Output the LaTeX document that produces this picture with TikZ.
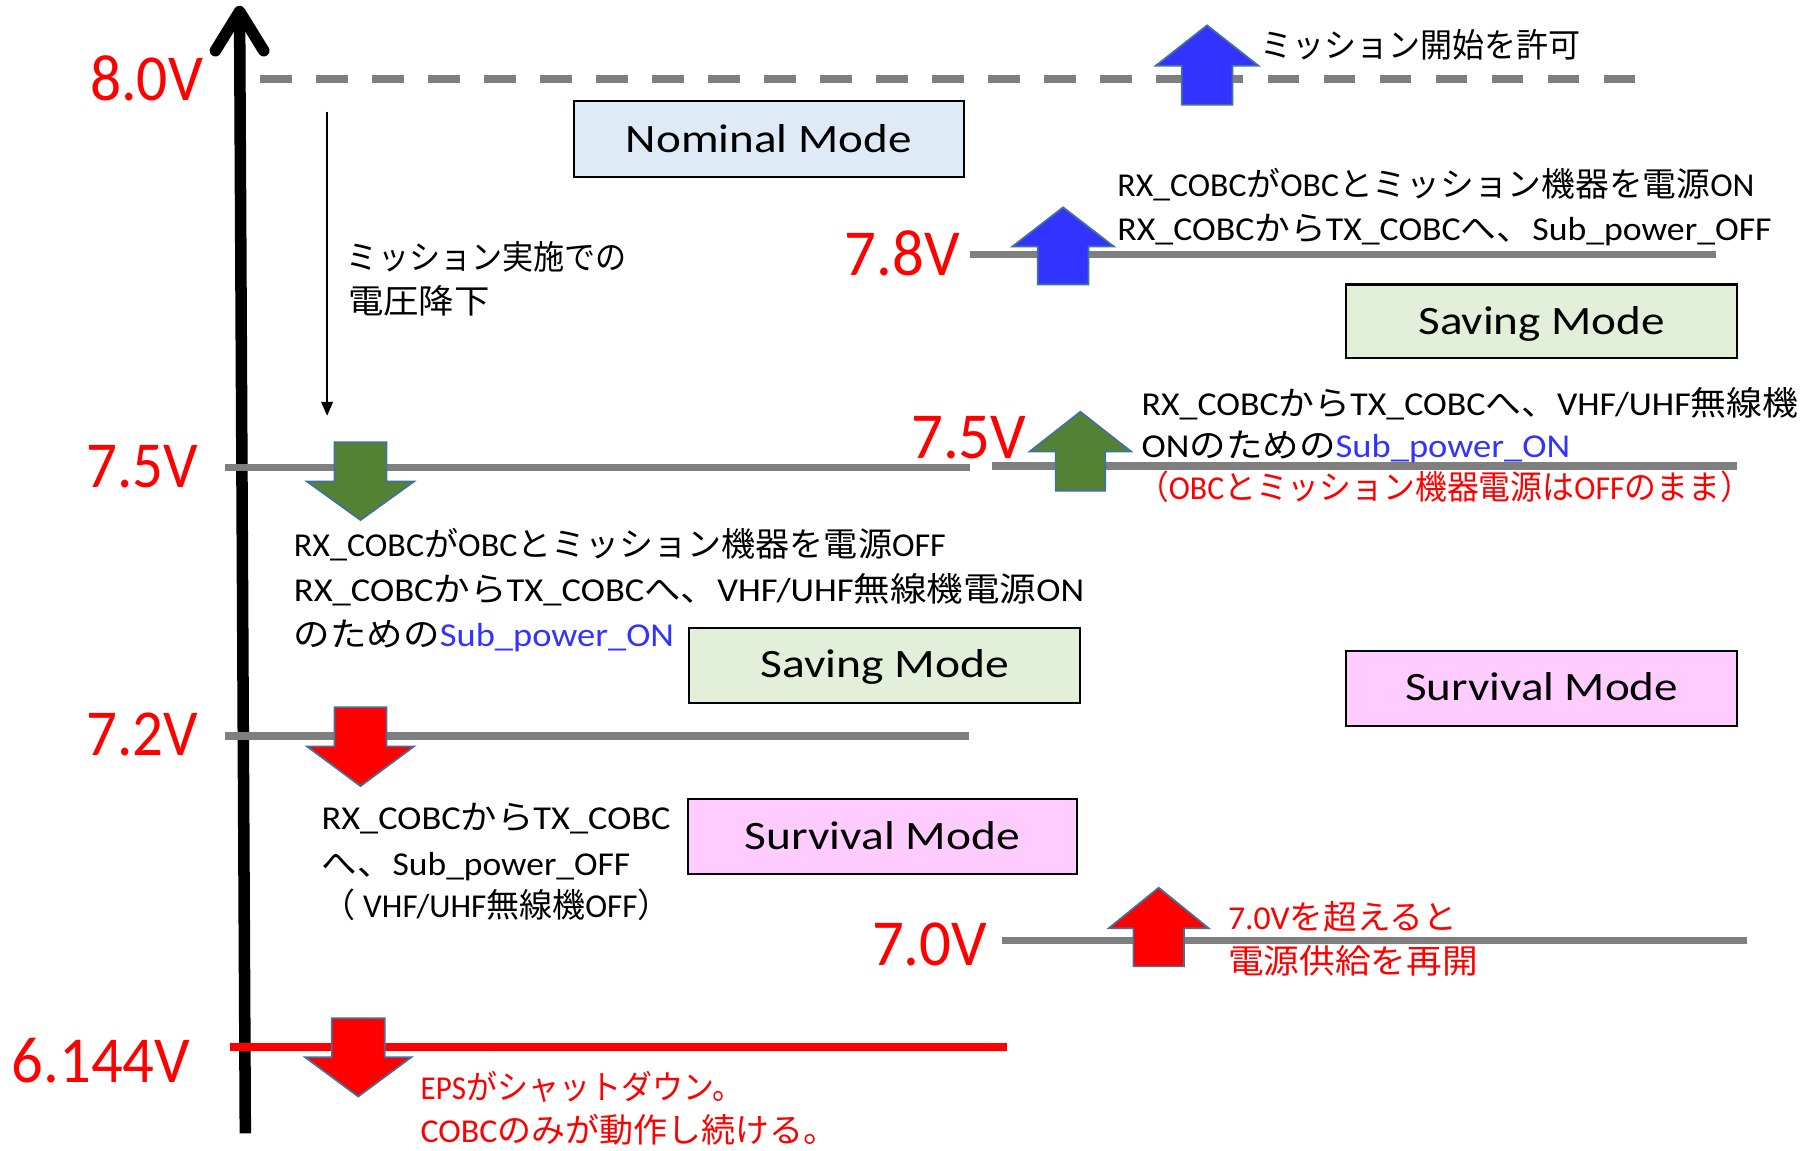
\documentclass[tikz,border=0pt]{standalone}
\usepackage{fontspec}
\setmainfont{Carlito}
\newfontfamily\jpf{Noto Sans CJK JP}
\usepackage{graphicx}
\usetikzlibrary{arrows.meta}
\definecolor{lvgray}{HTML}{7F7F7F}
\definecolor{edgeblue}{HTML}{41719C}
\definecolor{arrblue}{HTML}{3333FF}
\definecolor{arrgreen}{HTML}{548235}
\definecolor{arrred}{HTML}{FF0000}
\definecolor{txtblue}{HTML}{3333FF}
\definecolor{txtred}{HTML}{FF0000}
\definecolor{nomfill}{HTML}{DEEBF7}
\definecolor{savfill}{HTML}{E2F0D9}
\definecolor{survfill}{HTML}{FFCCFF}
\newcommand\J[1]{{\jpf #1}}
\newcommand\fitw[2]{\resizebox{#1pt}{\height}{#2}}
\newcommand\blockarrow[7]{\draw[blockedge, fill=#7] (#1-#6,#2) -- (#1-#6,#3) -- (#1-#5,#3) -- (#1,#4) -- (#1+#5,#3) -- (#1+#6,#3) -- (#1+#6,#2) -- cycle;}
\tikzset{
  vlabel/.style={anchor=base west, inner sep=0pt, text=txtred, font=\fontsize{57}{57}\selectfont},
  note/.style={anchor=base west, inner sep=0pt, font=\fontsize{29}{35}\selectfont},
  modebox/.style={draw=black, line width=1.8pt, inner sep=0pt, text height=22pt, text depth=0pt, font=\fontsize{35}{35}\selectfont},
  level/.style={draw=lvgray, line width=6.5pt},
  blockedge/.style={draw=edgeblue, line width=1.5pt, line join=miter},
  axisline/.style={line width=10pt, draw=black},
  droparrow/.style={line width=1.6pt, -{Triangle[length=12pt,width=10pt]}},
}
\begin{document}
\begin{tikzpicture}[x=1pt, y=-1pt]
\useasboundingbox (0,0) rectangle (1568,999);
\fill[white] (0,0) rectangle (1568,999);

% vertical axis
\coordinate (axisbot) at (213,984);
\coordinate (axistop) at (208,10);
\draw[axisline] (axisbot) -- (axistop);
\draw[axisline, line cap=round, line join=round] (187,44) -- (axistop) -- (229,44);

% level lines
\draw[level, dash pattern=on 27.4pt off 21.2pt] (226,68.6) -- (1420,68.6);
\draw[level] (842,221) -- (1490,221);
\draw[level] (195,406) -- (842,406);
\draw[level] (861,404.6) -- (1508,404.6);
\draw[level] (195,639) -- (841,639);
\draw[level] (870,816.7) -- (1517,816.7);
\draw[draw=txtred, line width=7pt] (200,908.7) -- (874,908.7);

% voltage labels
\node[vlabel] (v80) at (78,87) {\fitw{98}{8.0V}};
\node[vlabel] (v78) at (733,239) {\fitw{100}{7.8V}};
\node[vlabel] (v75r) at (791,398) {\fitw{100}{7.5V}};
\node[vlabel] (v75l) at (75,423) {\fitw{97}{7.5V}};
\node[vlabel] (v72) at (75,656) {\fitw{97}{7.2V}};
\node[vlabel] (v70) at (757,838) {\fitw{100}{7.0V}};
\node[vlabel] (v61) at (10,940) {\fitw{155}{6.144V}};

% block arrows: x, tail, head base, tip, head half, shaft half, fill
\blockarrow{1048}{91}{57}{22}{44.5}{22}{arrblue}
\blockarrow{923}{247}{214}{180}{44}{22}{arrblue}
\blockarrow{938}{426}{392}{357.5}{44}{21.5}{arrgreen}
\blockarrow{313}{384}{418}{451.5}{46.5}{22.5}{arrgreen}
\blockarrow{313}{614}{648}{682.5}{46.5}{22.5}{arrred}
\blockarrow{1006}{839}{806}{770.7}{43.5}{22}{arrred}
\blockarrow{311}{884}{918}{952}{46}{23}{arrred}

% thin drop arrow
\coordinate (dropstart) at (284,97);
\coordinate (dropend) at (284,361);
\draw[droparrow] (dropstart) -- (dropend);

% mode boxes
\node[modebox, fill=nomfill, minimum width=339pt, minimum height=66pt] (nominal) at (667.5,121) {\fitw{248}{Nominal Mode}};
\node[modebox, fill=savfill, minimum width=339pt, minimum height=64pt] (savingR) at (1338.5,279) {\fitw{214}{Saving Mode}};
\node[modebox, fill=savfill, minimum width=340pt, minimum height=65pt] (savingL) at (768,577.5) {\fitw{216}{Saving Mode}};
\node[modebox, fill=survfill, minimum width=338pt, minimum height=65pt] (survL) at (766,726.5) {\fitw{239}{Survival Mode}};
\node[modebox, fill=survfill, minimum width=339pt, minimum height=65pt] (survR) at (1338.5,597.5) {\fitw{237}{Survival Mode}};

% notes
\node[note] (tA) at (1094,50) {\fitw{278}{\J{ミッション開始を許可}}};
\node[note] (tB1) at (301,234) {\fitw{243}{\J{ミッション実施での}}};
\node[note] (tB2) at (302,272) {\fitw{123}{\J{電圧降下}}};

\node[note] (t78a) at (970,171) {\fitw{553}{RX\_COBC\J{が}OBC\J{とミッション機器を電源}ON}};
\node[note] (t78b) at (970,209) {\fitw{568}{RX\_COBC\J{から}TX\_COBC\J{へ、}Sub\_power\_OFF}};

\node[note] (t75ra) at (991,361) {\fitw{570}{RX\_COBC\J{から}TX\_COBC\J{へ、}VHF/UHF\J{無線機}}};
\node[note] (t75rb) at (991,397) {\fitw{372}{ON\J{のための}\textcolor{txtblue}{Sub\_power\_ON}}};
\node[note, text=txtred] (t75rc) at (987,434) {\fitw{534}{\J{（}OBC\J{とミッション機器電源は}OFF\J{のまま）}}};

\node[note] (t75la) at (255,483) {\fitw{566}{RX\_COBC\J{が}OBC\J{とミッション機器を電源}OFF}};
\node[note] (t75lb) at (255,522) {\fitw{686}{RX\_COBC\J{から}TX\_COBC\J{へ、}VHF/UHF\J{無線機電源}ON}};
\node[note] (t75lc) at (255,561) {\fitw{330}{\J{のための}\textcolor{txtblue}{Sub\_power\_ON}}};

\node[note] (t72a) at (279,720) {\fitw{303}{RX\_COBC\J{から}TX\_COBC}};
\node[note] (t72b) at (279,760) {\fitw{268}{\J{へ、}Sub\_power\_OFF}};
\node[note] (t72c) at (280,797) {\fitw{302}{\J{（} VHF/UHF\J{無線機}OFF\J{）}}};

\node[note, text=txtred] (t70a) at (1066,807) {\fitw{199}{7.0V\J{を超えると}}};
\node[note, text=txtred] (t70b) at (1066,845.5) {\fitw{217}{\J{電源供給を再開}}};

\node[note, text=txtred] (t61a) at (365,955) {\fitw{280}{EPS\J{がシャットダウン。}}};
\node[note, text=txtred] (t61b) at (365,992) {\fitw{362}{COBC\J{のみが動作し続ける。}}};
\end{tikzpicture}
\end{document}
